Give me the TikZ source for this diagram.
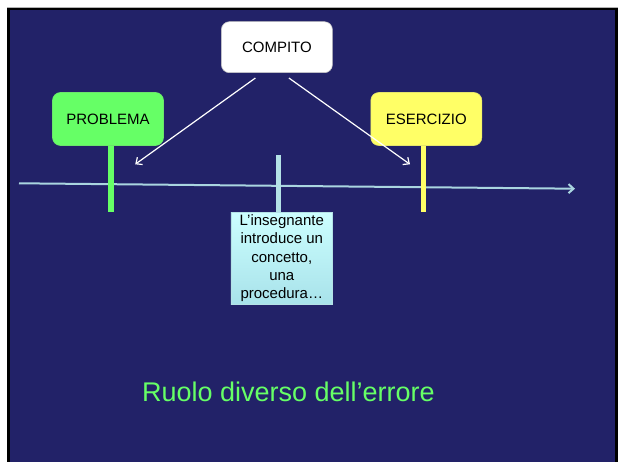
\documentclass[tikz,border=0pt]{standalone}
\usepackage{fontspec}
\setmainfont{Liberation Sans}
\usetikzlibrary{arrows.meta,calc}
\definecolor{slideblue}{RGB}{34,34,104}
\definecolor{probgreen}{RGB}{102,255,102}
\definecolor{eseryellow}{RGB}{255,255,102}
\definecolor{axiscol}{RGB}{170,214,224}
\definecolor{stemcol}{RGB}{180,226,230}
\definecolor{titlegreen}{RGB}{102,255,102}
\definecolor{boxtop}{RGB}{204,255,255}
\definecolor{boxbot}{RGB}{168,226,234}
\begin{document}
\begin{tikzpicture}[x=1pt,y=-1pt,
  tag/.style={rounded corners=8pt, minimum width=111pt, minimum height=53pt,
    inner sep=0pt, font=\fontsize{15}{18}\selectfont, line width=0.6pt},
  stem/.style={line width=5.5pt},
  warrow/.style={white, line width=1.2pt, -{Straight Barb[length=5pt,width=9pt]}},
  axisline/.style={axiscol, line width=2pt, -{Straight Barb[length=5pt,width=9pt]}}]
\useasboundingbox (0,0) rectangle (618,462);
\fill[white] (0,0) rectangle (618,462);
\fill[black] (7,7) rectangle (618,462);
\draw[gray!60, line width=0.8pt] (7,7.4) -- (618,7.4);
\fill[slideblue] (10,10) rectangle (615,462);

% axis
\coordinate (axs) at (19,183.3);
\coordinate (axe) at (575,188.7);
\draw[axisline] (axs) -- (axe);

% boxes
\node[tag, fill=white, draw=gray!45, minimum height=51pt] (compito) at (276.9,47.2) {COMPITO};
\node[tag, fill=probgreen, draw=probgreen!80!gray] (prob) at (108,119) {PROBLEMA};
\node[tag, fill=eseryellow, draw=eseryellow!80!gray] (eser) at (426.3,119) {ESERCIZIO};

\node[draw=stemcol, line width=0.5pt, top color=boxtop, bottom color=boxbot,
  minimum width=101.7pt, minimum height=92pt, inner sep=0pt,
  align=center, font=\fontsize{15}{18.2}\selectfont] (teach) at (281.8,258.3)
  {L’insegnante\\introduce un\\concetto,\\una\\procedura…};

% stems
\coordinate (gstem) at (111.1,212.3);
\coordinate (ystem) at (423.7,212.3);
\coordinate (mstem) at (278.7,155);
\draw[stem, probgreen] (prob.south -| gstem) -- (gstem);
\draw[stem, eseryellow] (eser.south -| ystem) -- (ystem);
\draw[stem, stemcol] (mstem) -- (mstem |- teach.north);

% arrows from COMPITO
\coordinate (ls) at ([shift={(-21.5,5)}]compito.south);
\coordinate (rs) at ([shift={(12,5)}]compito.south);
\coordinate (le) at (135.2,164.3);
\coordinate (re) at (410,164.3);
\draw[warrow] (ls) -- (le);
\draw[warrow] (rs) -- (re);

% title
\node[text=titlegreen, font=\fontsize{27}{32}\selectfont, anchor=base, inner sep=0pt]
  (title) at (288.5,401.7) {Ruolo diverso dell’errore};
\end{tikzpicture}
\end{document}
